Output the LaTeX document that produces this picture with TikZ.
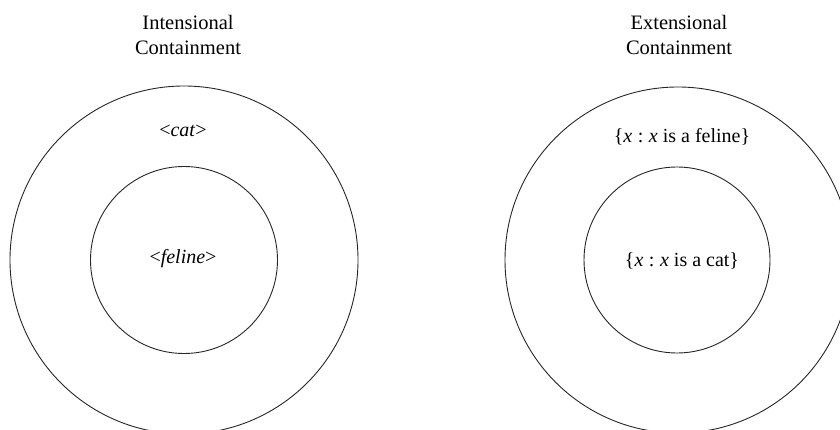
\documentclass[tikz,border=0pt]{standalone}
\usepackage{fontspec}
\setmainfont{Liberation Serif}
\begin{document}
\begin{tikzpicture}[x=1pt,y=-1pt,
  ring/.style={draw=black!85,line width=0.9pt},
  title/.style={align=center,font=\fontsize{20.5}{25}\selectfont,inner sep=0pt},
  label/.style={font=\fontsize{20}{24}\selectfont,inner sep=0pt}]
\useasboundingbox (0,0) rectangle (840,430);
\clip (0,0) rectangle (840,430);
\node[title] (t1) at (188,35) {Intensional\\Containment};
\node[title] (t2) at (679,35) {Extensional\\Containment};
\node[ring,circle,minimum size=348pt,inner sep=0pt] (o1) at (184,260) {};
\node[ring,circle,minimum size=187pt,inner sep=0pt] (i1) at (184,260) {};
\node[ring,circle,minimum size=346pt,inner sep=0pt] (o2) at (678,260) {};
\node[ring,circle,minimum size=186pt,inner sep=0pt] (i2) at (677,260) {};
\node[label] (c1) at (183,131) {<\textit{cat}>};
\node[label] (f1) at (183,259) {<\textit{feline}>};
\node[label] (f2) at (682,137) {\{\textit{x}\;:\;\textit{x} is a feline\}};
\node[label] (c2) at (682,261) {\{\textit{x}\;:\;\textit{x} is a cat\}};
\end{tikzpicture}
\end{document}
